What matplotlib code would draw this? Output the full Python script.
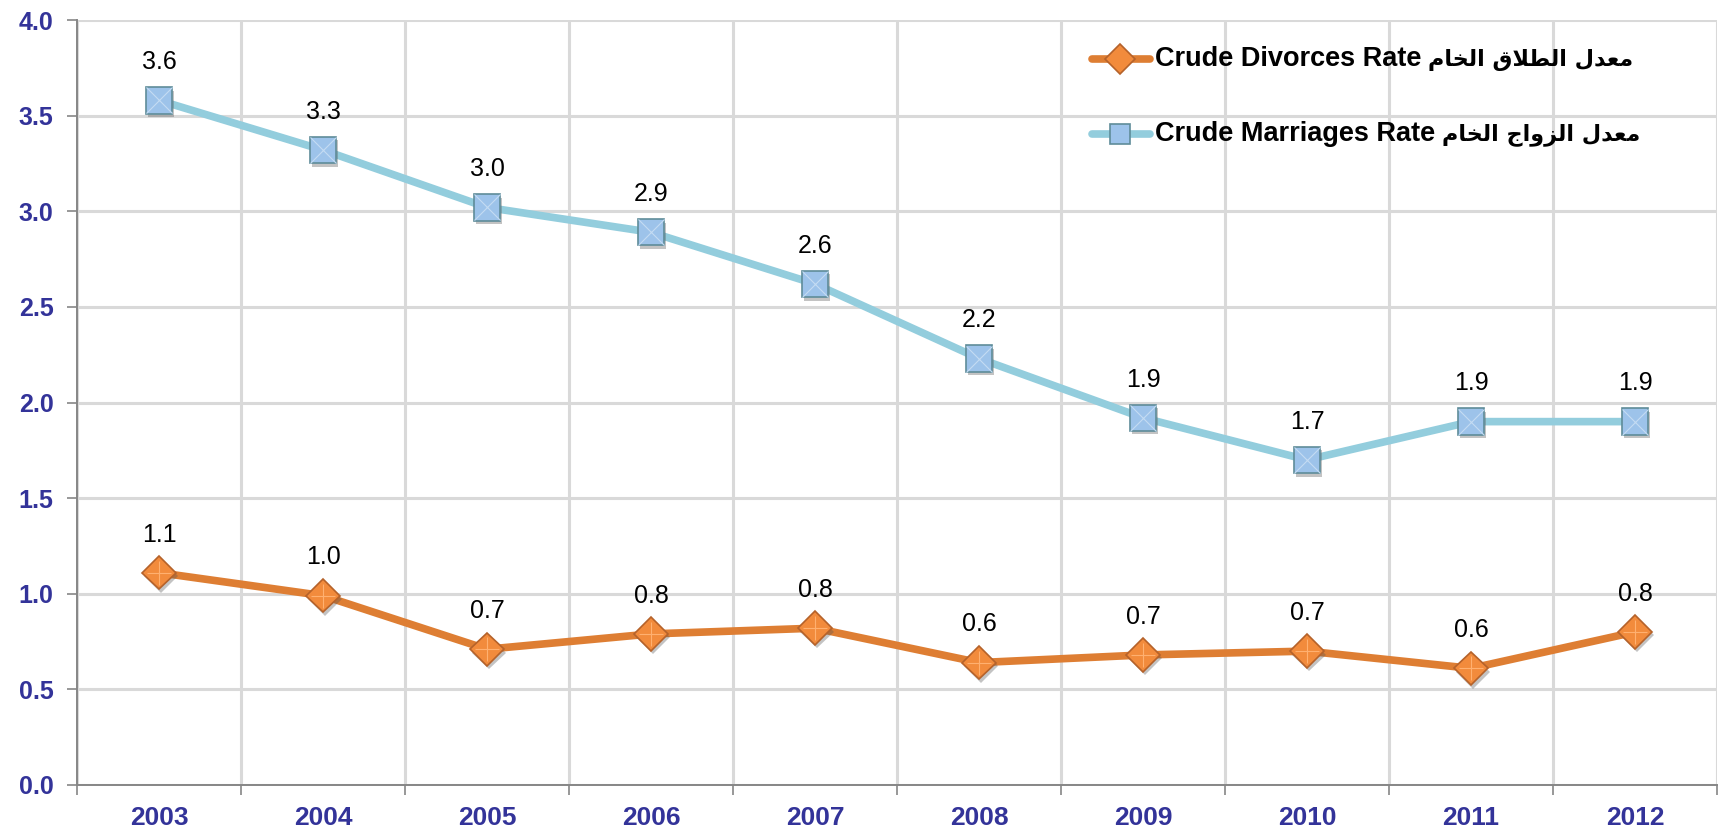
import matplotlib
matplotlib.use('Agg')
import matplotlib.pyplot as plt
import matplotlib.patheffects as pe
from matplotlib.lines import Line2D
from matplotlib.ticker import FixedLocator, NullFormatter

years = ['2003', '2004', '2005', '2006', '2007', '2008', '2009', '2010', '2011', '2012']
marriages = [3.58, 3.32, 3.02, 2.89, 2.62, 2.23, 1.92, 1.70, 1.90, 1.90]
divorces = [1.11, 0.99, 0.71, 0.79, 0.82, 0.64, 0.68, 0.70, 0.61, 0.80]
y_ticks = [0.0, 0.5, 1.0, 1.5, 2.0, 2.5, 3.0, 3.5, 4.0]


def visual_arabic(words):
    # words are already shaped (presentation forms) in logical order;
    # matplotlib draws left to right, so reverse for display
    return ' '.join(w[::-1] for w in reversed(words))


# shaped forms: معدل / الطلاق / الزواج / الخام
w_rate = '\uFEE3\uFECC\uFEAA\uFEDD'
w_divorce = '\uFE8D\uFEDF\uFEC4\uFEFC\uFED5'
w_marriage = '\uFE8D\uFEDF\uFEB0\uFEED\uFE8D\uFE9D'
w_crude = '\uFE8D\uFEDF\uFEA8\uFE8E\uFEE1'

legend_en = ['Crude Divorces Rate', 'Crude Marriages Rate']
legend_ar = [visual_arabic([w_rate, w_divorce, w_crude]),
             visual_arabic([w_rate, w_marriage, w_crude])]

fam = ['Liberation Sans', 'DejaVu Sans']
plt.rcParams['font.family'] = fam

W, H = 1720, 834
fig = plt.figure(figsize=(W / 100, H / 100), dpi=100)
ax = fig.add_axes([77 / W, 49 / H, 1640 / W, 765 / H])

x = list(range(len(years)))

div_style = dict(color='#de7e33', lw=5.5, marker='D', mfc='#f28b3c',
                 mec='#b5622a', mew=1.2)
mar_style = dict(color='#93cddd', lw=5.5, marker='s', mfc='#9dc3ea',
                 mec='#5f8c99', mew=1.2)
shadow = [pe.SimplePatchShadow(offset=(1.5, -2.5), shadow_rgbFace='#555555',
                               alpha=0.35), pe.Normal()]

ax.plot(x, divorces, color=div_style['color'], lw=div_style['lw'],
        solid_capstyle='round', zorder=4)
ax.plot(x, divorces, ls='none', marker='D', ms=17, mfc=div_style['mfc'],
        mec=div_style['mec'], mew=1.2, zorder=5, path_effects=shadow)
ax.plot(x, divorces, ls='none', marker='+', ms=17, mec='#ffb070', mew=0.8,
        zorder=6)
ax.plot(x, marriages, color=mar_style['color'], lw=mar_style['lw'],
        solid_capstyle='round', zorder=4)
ax.plot(x, marriages, ls='none', marker='s', ms=19, mfc=mar_style['mfc'],
        mec=mar_style['mec'], mew=1.2, zorder=5, path_effects=shadow)
ax.plot(x, marriages, ls='none', marker='x', ms=19, mec='#c4dcf3', mew=0.8,
        zorder=6)

for series in (marriages, divorces):
    for xi, v in zip(x, series):
        ax.annotate('%.1f' % v, (xi, v), xytext=(0, 27.5),
                    textcoords='offset points', ha='center', va='center',
                    fontsize=18, color='black')

ax.set_xlim(-0.5, 9.5)
ax.set_ylim(0, 4.0)
ax.xaxis.set_major_locator(FixedLocator([i - 0.5 for i in range(11)]))
ax.xaxis.set_major_formatter(NullFormatter())
ax.xaxis.set_minor_locator(FixedLocator(x))
ax.set_xticklabels(years, minor=True)
ax.set_yticks(y_ticks)
ax.set_yticklabels(['%.1f' % t for t in y_ticks])

ax.tick_params(axis='x', which='major', direction='out', length=7,
               color='#868686', width=1.2)
ax.tick_params(axis='x', which='minor', length=0, pad=15, labelsize=19,
               labelcolor='#333399')
ax.tick_params(axis='y', direction='out', length=7, color='#868686',
               width=1.2, pad=10, labelsize=18, labelcolor='#333399')
for lab in ax.get_xticklabels(minor=True) + ax.get_yticklabels():
    lab.set_fontweight('bold')

ax.grid(True, which='major', color='#d9d9d9', lw=2.2)
ax.set_axisbelow(True)
for s in ['top', 'right']:
    ax.spines[s].set_visible(False)
for s in ['left', 'bottom']:
    ax.spines[s].set_color('#868686')
    ax.spines[s].set_linewidth(1.4)
    ax.spines[s].set_zorder(3)

# legend drawn by hand: handle, english text, arabic text
rows_y = [59, 134]
styles = [(div_style, 15), (mar_style, 14)]
en_texts = []
for (st, ms), ry, en in zip(styles, rows_y, legend_en):
    yy = 1 - ry / H
    fig.add_artist(Line2D([1092 / W, 1150 / W], [yy, yy], transform=fig.transFigure,
                          color=st['color'], lw=st['lw'],
                          solid_capstyle='round'))
    fig.add_artist(Line2D([1120 / W], [yy], transform=fig.transFigure,
                          ls='none', marker=st['marker'], ms=ms, mfc=st['mfc'],
                          mec=st['mec'], mew=st['mew']))
    en_texts.append(fig.text(1155 / W, yy, en, ha='left', va='center',
                             fontsize=19.5, fontweight='bold', color='black'))

fig.canvas.draw()
rend = fig.canvas.get_renderer()
for t, ar, ry in zip(en_texts, legend_ar, rows_y):
    bb = t.get_window_extent(rend)
    fig.text((bb.x1 + 7) / W, 1 - (ry + 1) / H, ar, ha='left', va='center',
             fontsize=16, fontweight='bold', color='black',
             family='DejaVu Sans')

fig.savefig('out.png', dpi=100)
